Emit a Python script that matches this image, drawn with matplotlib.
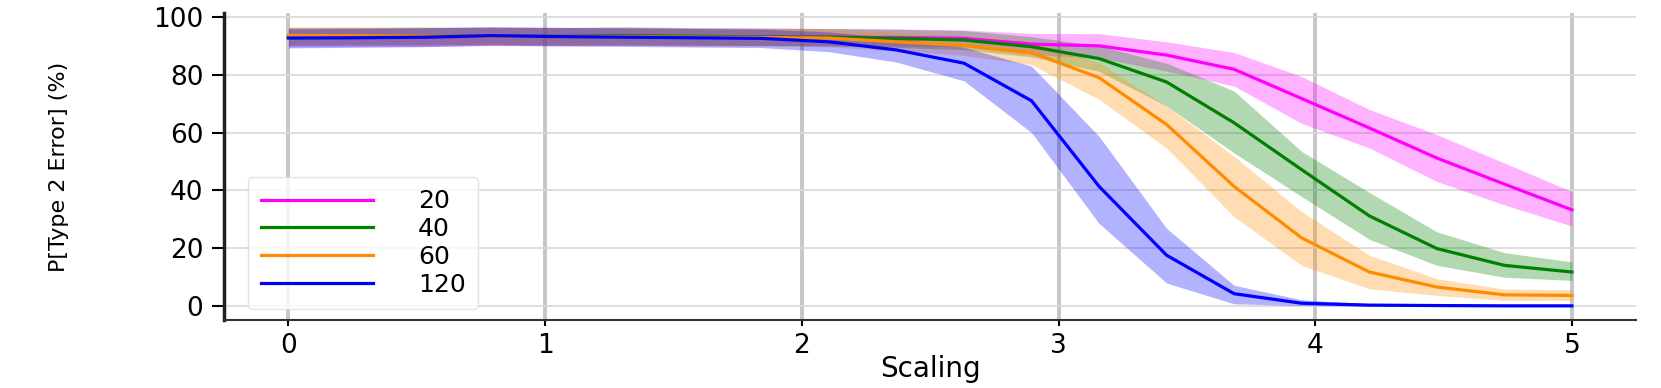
import numpy as np
import matplotlib
matplotlib.use("Agg")
import matplotlib.pyplot as plt

#scaling values on the x axis (20 steps from 0 to 5)
scaling = [0.0, 0.263, 0.526, 0.789, 1.053, 1.316, 1.579, 1.842, 2.105, 2.368,
           2.632, 2.895, 3.158, 3.421, 3.684, 3.947, 4.211, 4.474, 4.737, 5.0]

labels = ['20', '40', '60', '120']
colors = ['magenta', 'green', 'darkorange', 'blue']

#type 2 error (%) for each sample size, with lower/upper band
mean20 = [93.0, 93.1, 93.0, 93.3, 93.2, 93.3, 93.1, 93.2, 93.0, 92.9, 92.6, 90.6, 90.0, 86.8, 81.9, 71.8, 61.6, 51.2, 42.2, 33.3]
upper20 = [96.3, 96.4, 96.2, 96.5, 96.4, 96.4, 96.2, 96.2, 96.0, 95.9, 95.5, 94.3, 94.2, 91.4, 87.7, 79.4, 68.0, 59.3, 49.5, 39.6]
lower20 = [89.7, 89.8, 89.8, 90.1, 90.0, 90.2, 90.0, 90.2, 90.0, 89.9, 89.7, 87.0, 85.8, 81.3, 76.1, 63.2, 54.7, 43.1, 35.0, 27.7]

mean40 = [93.2, 93.3, 93.4, 93.5, 93.3, 93.5, 93.3, 93.1, 93.0, 92.6, 92.0, 89.7, 85.6, 77.5, 63.4, 47.2, 31.2, 19.9, 14.1, 11.8]
upper40 = [96.2, 96.3, 96.5, 96.4, 96.3, 96.6, 96.3, 96.1, 96.0, 95.7, 95.3, 93.2, 90.0, 84.0, 74.4, 53.5, 39.3, 25.7, 18.5, 15.3]
lower40 = [90.2, 90.3, 90.3, 90.6, 90.3, 90.4, 90.3, 90.1, 90.0, 89.5, 88.7, 86.2, 81.2, 69.2, 53.0, 37.9, 23.1, 14.1, 10.0, 8.9]

mean60 = [93.6, 93.5, 93.4, 93.3, 93.2, 93.2, 93.0, 92.9, 92.7, 91.4, 90.1, 87.7, 79.0, 62.8, 41.4, 23.6, 11.8, 6.6, 3.9, 3.7]
upper60 = [96.6, 96.5, 96.4, 96.3, 96.2, 96.2, 96.0, 95.9, 95.7, 94.6, 93.5, 91.6, 84.2, 69.2, 51.8, 32.7, 17.6, 9.5, 5.9, 5.7]
lower60 = [90.6, 90.5, 90.4, 90.3, 90.2, 90.2, 90.0, 89.9, 89.7, 88.2, 86.7, 83.5, 71.5, 54.7, 30.9, 14.1, 6.0, 3.7, 2.0, 2.0]

mean120 = [92.7, 92.8, 93.0, 93.5, 93.2, 93.0, 92.8, 92.6, 91.4, 88.6, 84.0, 71.0, 41.4, 17.6, 4.3, 1.0, 0.35, 0.2, 0.1, 0.1]
upper120 = [95.9, 96.0, 96.3, 96.6, 96.4, 96.2, 96.0, 95.8, 94.8, 92.8, 89.5, 83.0, 58.7, 26.9, 7.2, 2.2, 0.8, 0.5, 0.3, 0.3]
lower120 = [89.3, 89.5, 89.7, 90.2, 90.0, 89.8, 89.6, 89.4, 88.0, 84.4, 77.9, 60.0, 28.6, 8.0, 0.8, 0.2, 0.0, 0.0, 0.0, 0.0]

means = [mean20, mean40, mean60, mean120]
uppers = [upper20, upper40, upper60, upper120]
lowers = [lower20, lower40, lower60, lower120]

fig = plt.figure(figsize=(16.61, 3.88), dpi=100)
ax = fig.add_axes([0.135, 0.175, 0.85, 0.792])

for m, up, lo, c, lab in zip(means, uppers, lowers, colors, labels):
    ax.fill_between(scaling, lo, up, color=c, alpha=0.3, linewidth=0)
    ax.plot(scaling, m, color=c, linewidth=2.3, label=lab)

#grid: vertical lines wider than horizontal ones
ax.grid(axis='x', color='#c6c6c6', linewidth=2.8)
ax.grid(axis='y', color='#d8d8d8', linewidth=1.2)
ax.set_axisbelow(True)

ax.set_xticks([0, 1, 2, 3, 4, 5])
ax.set_yticks([0, 20, 40, 60, 80, 100])
ax.tick_params(axis='x', labelsize=19, length=4, width=1.5, pad=5)
ax.tick_params(axis='y', labelsize=19, length=9, width=1.5, pad=6)

ax.spines['top'].set_visible(False)
ax.spines['right'].set_visible(False)
ax.spines['left'].set_linewidth(2.5)
ax.spines['bottom'].set_linewidth(1.5)
ax.spines['left'].set_color('#222222')
ax.spines['bottom'].set_color('#333333')

ax.set_xlabel('Scaling', fontsize=20)
ax.xaxis.set_label_coords(0.5, -0.115)
ax.set_ylabel('P[Type 2 Error] (%)', fontsize=16)
ax.yaxis.set_label_coords(-0.11, 0.5)

ax.legend(loc='lower left', bbox_to_anchor=(0.017, 0.036), borderaxespad=0,
          fontsize=18, handlelength=4.5, handletextpad=1.8, labelspacing=0.15,
          borderpad=0.5, framealpha=0.8, edgecolor='#dddddd')

plt.savefig('out.png', dpi=100)
